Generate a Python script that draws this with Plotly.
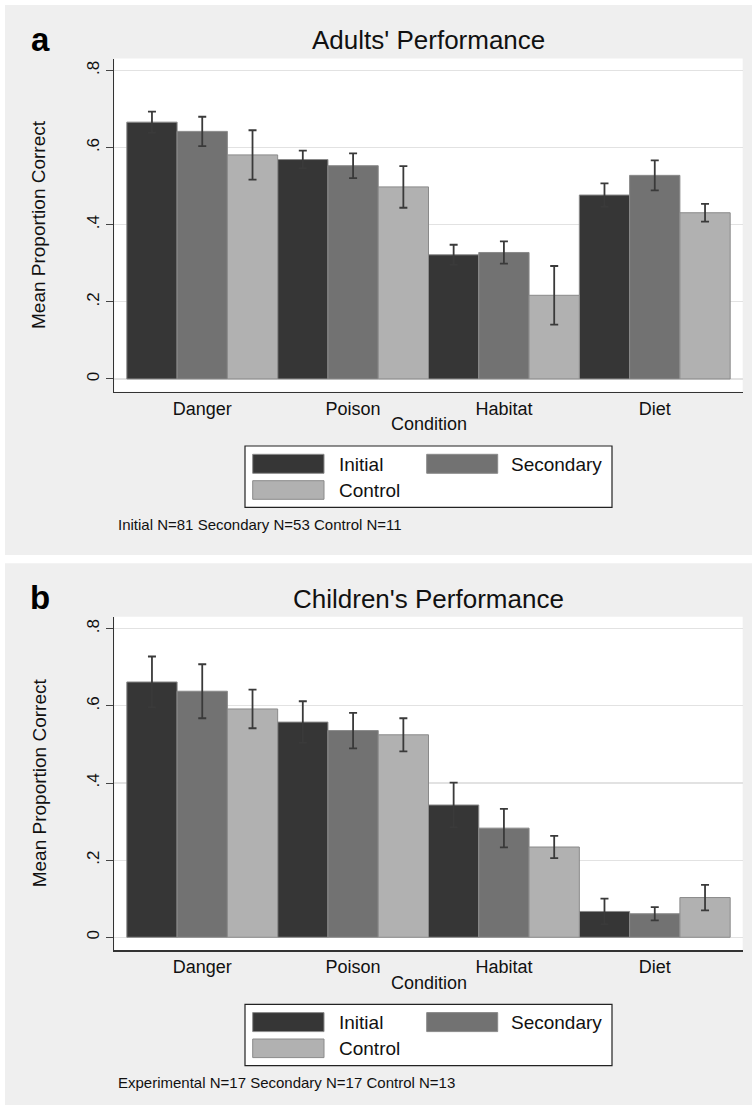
import plotly.graph_objects as go

# ---------------- data ----------------
categories = ["Danger", "Poison", "Habitat", "Diet"]
series_names = ["Initial", "Secondary", "Control"]
series_colors = ["#363636", "#727272", "#b1b1b1"]

adult_initial = [0.666, 0.569, 0.322, 0.477]
adult_initial_err = [0.027, 0.023, 0.026, 0.030]
adult_secondary = [0.642, 0.553, 0.328, 0.528]
adult_secondary_err = [0.038, 0.032, 0.029, 0.039]
adult_control = [0.581, 0.498, 0.217, 0.431]
adult_control_err = [0.064, 0.054, 0.076, 0.023]

child_initial = [0.662, 0.558, 0.343, 0.067]
child_initial_err = [0.066, 0.054, 0.058, 0.033]
child_secondary = [0.638, 0.536, 0.283, 0.061]
child_secondary_err = [0.070, 0.046, 0.050, 0.017]
child_control = [0.592, 0.525, 0.234, 0.103]
child_control_err = [0.050, 0.043, 0.029, 0.033]

y_tickvals = [0, 0.2, 0.4, 0.6, 0.8]
y_ticktext = ["0", ".2", ".4", ".6", ".8"]

panel_titles = ["Adults' Performance", "Children's Performance"]
panel_letters = ["a", "b"]
footnotes = ["Initial N=81 Secondary N=53 Control N=11",
             "Experimental N=17 Secondary N=17 Control N=13"]

# ---------------- layout helpers ----------------
W, H = 752, 1105
FONT = "Liberation Sans, Arial, sans-serif"
DY = 558.3  # vertical offset between the two panels


def X(px):
    return px / W


def Y(py):
    return 1 - py / H


fig = go.Figure()

panels = [
    [(adult_initial, adult_initial_err), (adult_secondary, adult_secondary_err),
     (adult_control, adult_control_err)],
    [(child_initial, child_initial_err), (child_secondary, child_secondary_err),
     (child_control, child_control_err)],
]

for p, data in enumerate(panels):
    xa = "x" if p == 0 else "x2"
    ya = "y" if p == 0 else "y2"
    for i, (vals, errs) in enumerate(data):
        fig.add_trace(go.Bar(
            x=categories, y=vals, name=series_names[i],
            marker=dict(color=series_colors[i], line=dict(color="#8a8a8a", width=1)),
            error_y=dict(type="data", array=errs, color="#3a3a3a", thickness=1.8, width=4),
            xaxis=xa, yaxis=ya, showlegend=False,
        ))

axis_common_x = dict(
    type="category", range=[-0.583, 3.583], showline=True, linecolor="#333333",
    linewidth=1.5, ticks="", showgrid=False, zeroline=False,
    tickfont=dict(family=FONT, size=18, color="#111111"),
)
axis_common_y = dict(
    range=[-0.033, 0.831], tickvals=y_tickvals, ticktext=y_ticktext,
    showline=True, linecolor="#333333", linewidth=1.5, ticks="outside",
    ticklen=7, tickcolor="#444444", tickwidth=1, tickangle=-90,
    showgrid=True, gridcolor="#e2e2e2", gridwidth=1.2, zeroline=False,
    tickfont=dict(family=FONT, size=17, color="#111111"),
)

plot_tops = [58.5, 58.5 + DY]
plot_bottoms = [391.7, 391.7 + DY]

fig.update_layout(
    width=W, height=H, autosize=False,
    margin=dict(l=0, r=0, t=0, b=0),
    paper_bgcolor="white", plot_bgcolor="white",
    bargap=0, bargroupgap=0, barmode="group", hovermode=False,
    xaxis=dict(domain=[X(114.3), X(742.7)], anchor="y", **axis_common_x),
    yaxis=dict(domain=[Y(plot_bottoms[0]), Y(plot_tops[0])], anchor="x", **axis_common_y),
    xaxis2=dict(domain=[X(114.3), X(742.7)], anchor="y2", **axis_common_x),
    yaxis2=dict(domain=[Y(plot_bottoms[1]), Y(plot_tops[1])], anchor="x2", **axis_common_y),
)

shapes = []
annotations = []
for p in range(2):
    off = p * DY
    sfx = "" if p == 0 else "2"
    # gray graph region
    shapes.append(dict(type="rect", xref="paper", yref="paper", layer="below",
                       x0=X(5), x1=X(752), y0=Y(min(555 + off, H)), y1=Y(5 + off),
                       fillcolor="#efefef", line=dict(width=0)))
    # white plot region
    shapes.append(dict(type="rect", xref="x%s domain" % sfx, yref="y%s domain" % sfx,
                       layer="below", x0=0, x1=1, y0=0, y1=1,
                       fillcolor="white", line=dict(width=0)))
    # legend box
    shapes.append(dict(type="rect", xref="paper", yref="paper",
                       x0=X(245), x1=X(612), y0=Y(507.3 + off), y1=Y(446 + off),
                       fillcolor="white", line=dict(color="#222222", width=1.2)))
    swatches = [(252.7, 324, 454.3, 473.3), (426.7, 497.7, 454.3, 473.3),
                (252.7, 324, 480.7, 499.3)]
    text_pos = [(336.7, 464), (509.3, 464), (336.7, 490)]
    for i in range(3):
        x0, x1, y0, y1 = swatches[i]
        shapes.append(dict(type="rect", xref="paper", yref="paper",
                           x0=X(x0), x1=X(x1), y0=Y(y1 + off), y1=Y(y0 + off),
                           fillcolor=series_colors[i], line=dict(color="#8a8a8a", width=1)))
        tx, ty = text_pos[i]
        annotations.append(dict(text=series_names[i], xref="paper", yref="paper",
                                x=X(tx), y=Y(ty + off), xanchor="left", yanchor="middle",
                                showarrow=False, font=dict(family=FONT, size=19, color="#111111")))
    # panel letter
    annotations.append(dict(text="<b>%s</b>" % panel_letters[p], xref="paper", yref="paper",
                            x=X(40), y=Y(39.5 + off), xanchor="center", yanchor="middle",
                            showarrow=False, font=dict(family=FONT, size=33, color="#000000")))
    # title
    annotations.append(dict(text=panel_titles[p], xref="paper", yref="paper",
                            x=X(428.5), y=Y(40.5 + off), xanchor="center", yanchor="middle",
                            showarrow=False, font=dict(family=FONT, size=26, color="#111111")))
    # x axis title
    annotations.append(dict(text="Condition", xref="paper", yref="paper",
                            x=X(428.5), y=Y(424.5 + off), xanchor="center", yanchor="middle",
                            showarrow=False, font=dict(family=FONT, size=18, color="#111111")))
    # y axis title
    annotations.append(dict(text="Mean Proportion Correct", xref="paper", yref="paper",
                            x=X(39), y=Y(225 + off), xanchor="center", yanchor="middle",
                            textangle=-90, showarrow=False,
                            font=dict(family=FONT, size=19, color="#111111")))
    # footnote
    annotations.append(dict(text=footnotes[p], xref="paper", yref="paper",
                            x=X(116), y=Y(524.5 + off), xanchor="left", yanchor="middle",
                            showarrow=False, font=dict(family=FONT, size=15, color="#111111")))

fig.update_layout(shapes=shapes, annotations=annotations)

fig.write_html(
    "out.html",
    config={"displayModeBar": False, "staticPlot": True},
    post_script="document.body.style.margin='0';document.body.style.overflow='hidden';",
)
